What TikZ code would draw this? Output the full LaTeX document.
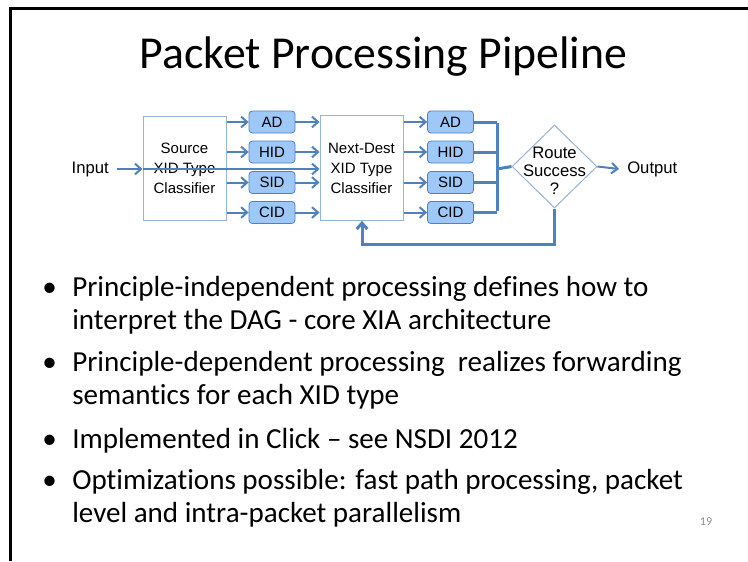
\documentclass[tikz,border=0pt]{standalone}
\usepackage{fontspec}
\setmainfont{Carlito}[Ligatures=NoCommon]
\newfontfamily\diagfont{Liberation Sans}
\usetikzlibrary{arrows.meta,shapes.geometric}
\definecolor{linkblue}{RGB}{79,129,189}
\definecolor{tagfill}{RGB}{157,200,248}
\definecolor{boxedge}{RGB}{149,179,215}
\definecolor{pagegray}{RGB}{140,140,140}

\begin{document}
\begin{tikzpicture}[x=0.75pt,y=-0.75pt,
  link/.style={draw=linkblue,line width=1.5pt,-{Straight Barb[length=4.5pt,width=8pt]}},
  bus/.style={draw=linkblue,line width=2.25pt},
  classbox/.style={draw=boxedge,fill=white,line width=0.75pt,minimum width=62.25pt,
    minimum height=78.5pt,inner sep=0pt,align=center,
    font=\diagfont\fontsize{11.25}{15}\selectfont},
  tag/.style={draw=linkblue,fill=tagfill,line width=0.6pt,rounded corners=2.5pt,
    minimum width=34.5pt,minimum height=16.5pt,inner sep=0pt,
    font=\diagfont\fontsize{11.25}{13}\selectfont},
  plaintext/.style={inner sep=0pt,font=\diagfont\fontsize{12.5}{14}\selectfont},
  bulletline/.style={anchor=base west,inner sep=0pt,font=\fontsize{21.8}{26}\selectfont},
  bulletmark/.style={anchor=base,inner sep=0pt,font=\fontsize{21.8}{26}\selectfont}
]
\useasboundingbox (0,0) rectangle (748,561);
\fill[white] (0,0) rectangle (748,561);
% slide frame (top and left edges)
\draw[line width=2.25pt] (748,8) -- (10,8) -- (10,561);

% title
\node[anchor=base,inner sep=0pt,font=\fontsize{34.3}{40}\selectfont] (title) at (383.5,68)
  {Packet Processing Pipeline};

% classifiers
\node[classbox] (src) at (184.5,168.5) {Source\\XID Type\\Classifier};
\node[classbox] (nd) at (361.5,168) {Next-Dest\\XID Type\\Classifier};

% principal-type tags, first stage
\node[tag] (ad1)  at (272,122)   {AD};
\node[tag] (hid1) at (272,152)   {HID};
\node[tag] (sid1) at (272,182.5) {SID};
\node[tag] (cid1) at (272,212.5) {CID};
% principal-type tags, second stage
\node[tag] (ad2)  at (450.5,122)   {AD};
\node[tag] (hid2) at (450.5,152)   {HID};
\node[tag] (sid2) at (450.5,182.5) {SID};
\node[tag] (cid2) at (450.5,212.5) {CID};

% route decision
\node[diamond,draw=boxedge,line width=0.75pt,fill=white,minimum width=63.75pt,
  minimum height=62.25pt,inner sep=0pt] (rt) at (554.5,166.5) {};
\node[plaintext,align=center,font=\diagfont\fontsize{12.5}{13.5}\selectfont] (rtlabel)
  at (554.5,171) {Route\\Success\\?};

% input / output labels
\node[plaintext,anchor=east] (inp) at (109,169) {Input};
\node[plaintext,anchor=west] (out) at (627,169) {Output};

% input path
\draw[link] ([xshift=6pt]inp.east) -- (src.west |- inp);
\draw[link] (src.west |- inp) -- (nd.west |- inp);

% first stage fan-out and fan-in
\foreach \t in {ad1,hid1,sid1,cid1}{
  \draw[link] (src.east |- \t) -- (\t.west);
  \draw[link] (\t.east) -- (nd.west |- \t);
}
% second stage fan-out
\foreach \t in {ad2,hid2,sid2,cid2}{
  \draw[link] (nd.east |- \t) -- (\t.west);
}
% merge bus into the decision
\coordinate (bus) at (497,169);
\foreach \t in {ad2,hid2,sid2,cid2}{
  \draw[bus] (\t.east) -- (bus |- \t);
}
\draw[bus] ([yshift=-1.1pt]bus |- ad2) -- ([yshift=1.1pt]bus |- cid2);
\draw[bus] (bus) -- (rt.west);

% output
\draw[link] (rt.east) -- ([xshift=-6pt]out.west);

% feedback loop back to the next-destination classifier
\coordinate (fb) at (362,244);
\draw[link,line width=2.25pt] (rt.south) |- (fb) -- (fb |- nd.south);

% bullet list
\node[bulletmark] (m1) at (49.5,296) {•};
\node[bulletline] (l1) at (72,296) {Principle-independent processing defines how to};
\node[bulletline] (l2) at (72,329) {interpret the DAG - core XIA architecture};
\node[bulletmark] (m2) at (49.5,371) {•};
\node[bulletline] (l3) at (72,371) {Principle-dependent processing\ \ realizes forwarding};
\node[bulletline] (l4) at (72,404) {semantics for each XID type};
\node[bulletmark] (m3) at (49.5,448) {•};
\node[bulletline] (l5) at (72,448) {Implemented in Click – see NSDI 2012};
\node[bulletmark] (m4) at (49.5,489) {•};
\node[bulletline] (l6) at (72,489) {Optimizations possible: fast path processing, packet};
\node[bulletline] (l7) at (72,522) {level and intra-packet parallelism};

% page number
\node[anchor=base,inner sep=0pt,text=pagegray,font=\fontsize{9}{10}\selectfont] (pg)
  at (706,525) {19};
\end{tikzpicture}
\end{document}
